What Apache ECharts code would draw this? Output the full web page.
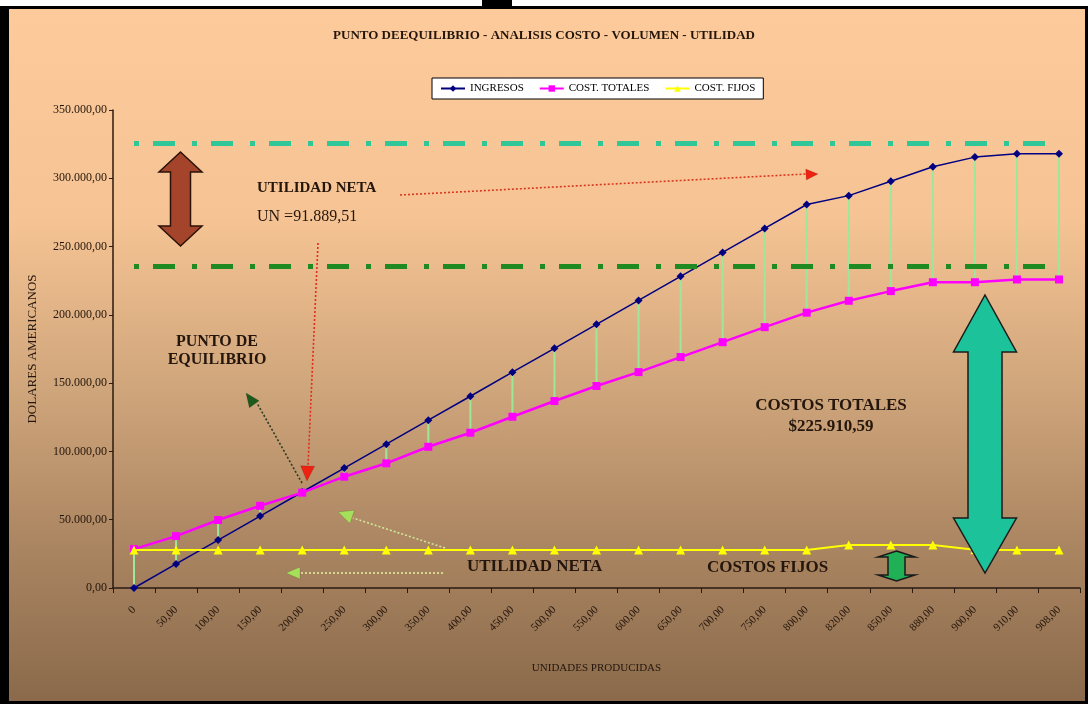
<!DOCTYPE html>
<html>
<head>
<meta charset="utf-8">
<script src="https://cdn.jsdelivr.net/npm/echarts/dist/echarts.min.js"></script>
<style>
  html, body { margin: 0; padding: 0; background: #fff; }
  body { width: 1088px; height: 706px; position: relative; overflow: hidden; }
  /* marco negro + fondo degradado como en Excel */
  #marco {
    position: absolute; left: 0; top: 6px; width: 1088px; height: 698px;
    box-sizing: border-box; border-style: solid; border-color: #000;
    border-width: 3px 3px 3px 9px;
    background: linear-gradient(to bottom, #fdcb9b 0%, #f6c494 30%, #cfa57b 55%, #a7825f 80%, #8a6a4b 100%);
  }
  #pestana { position: absolute; left: 482px; top: 0; width: 30px; height: 8px; background: #000; }
  #chart { position: absolute; left: 0; top: 0; width: 1088px; height: 706px; }
</style>
</head>
<body>
<div id="marco"></div>
<div id="pestana"></div>
<div id="chart"></div>
<script>
// categorias (unidades producidas)
const categorias = ['0', '50,00', '100,00', '150,00', '200,00', '250,00', '300,00', '350,00', '400,00',
  '450,00', '500,00', '550,00', '600,00', '650,00', '700,00', '750,00', '800,00', '820,00',
  '850,00', '880,00', '900,00', '910,00', '908,00'];

// series
const ingresos = [0, 17600, 35100, 52700, 70300, 87800, 105300, 122900, 140400, 158000, 175500,
  193100, 210600, 228200, 245700, 263300, 280800, 287300, 297800, 308500, 315500, 318000, 318000];
const costTotales = [28500, 38000, 49800, 60200, 69800, 81500, 91300, 103400, 113700, 125400, 136900,
  147900, 158100, 169100, 180000, 191000, 201600, 210300, 217400, 223900, 223900, 225900, 225910.59];
const costFijos = [27800, 27800, 27800, 27800, 27800, 27800, 27800, 27800, 27800, 27800, 27800,
  27800, 27800, 27800, 27800, 27800, 27800, 31500, 31500, 31500, 28000, 27800, 27800];

// lineas de referencia (punto-raya)
const lineasRef = [325500, 235500];
const coloresRef = ['#2fc797', '#1f8a22'];

const serif = 'Liberation Serif';
const oscuro = '#24160c';

// formato 350.000,00
const fmt = (v) => Math.round(v).toString().replace(/\B(?=(\d{3})+(?!\d))/g, '.') + ',00';

// flecha doble vertical
const flechaDoble = (cx, top, bottom, headW, shaftW, headTop, headBot) => [
  [cx, top], [cx + headW / 2, top + headTop], [cx + shaftW / 2, top + headTop],
  [cx + shaftW / 2, bottom - headBot], [cx + headW / 2, bottom - headBot], [cx, bottom],
  [cx - headW / 2, bottom - headBot], [cx - shaftW / 2, bottom - headBot],
  [cx - shaftW / 2, top + headTop], [cx - headW / 2, top + headTop]
];

// punta de flecha (triangulo)
const punta = (x, y, ang, len, half) => {
  const bx = x - len * Math.cos(ang);
  const by = y - len * Math.sin(ang);
  const px = -Math.sin(ang) * half;
  const py = Math.cos(ang) * half;
  return [[x, y], [bx + px, by + py], [bx - px, by - py]];
};

const lineaPunteada = (x1, y1, x2, y2, color) => ({
  type: 'line', z: 100, silent: true,
  shape: { x1, y1, x2, y2 },
  style: { stroke: color, lineWidth: 1.6, lineDash: [2, 2] }
});

const triangulo = (pts, color) => ({
  type: 'polygon', z: 101, silent: true,
  shape: { points: pts },
  style: { fill: color, stroke: 'rgba(0,0,0,0.25)', lineWidth: 0.5 }
});

const texto = (x, y, t, font, align) => ({
  type: 'text', z: 102, silent: true, x, y,
  style: { text: t, font, fill: oscuro, align: align || 'left', verticalAlign: 'middle' }
});

const chart = echarts.init(document.getElementById('chart'));

const hiLo = categorias.map((c, i) => [i, ingresos[i], costTotales[i]]);

const option = {
  animation: false,
  backgroundColor: 'transparent',
  title: {
    text: 'PUNTO DEEQUILIBRIO - ANALISIS COSTO - VOLUMEN - UTILIDAD',
    left: 'center',
    top: 24,
    textStyle: { fontFamily: serif, fontSize: 13, fontWeight: 'bold', color: oscuro }
  },
  legend: {
    data: ['INGRESOS', 'COST. TOTALES', 'COST. FIJOS'],
    left: 432,
    top: 78,
    backgroundColor: '#fff',
    borderColor: '#000',
    borderWidth: 1,
    padding: [5, 8],
    itemGap: 15,
    itemWidth: 24,
    itemHeight: 8,
    textStyle: { fontFamily: serif, fontSize: 11, color: '#000' }
  },
  grid: { left: 113, right: 8, top: 110, bottom: 118 },
  xAxis: {
    type: 'category',
    data: categorias,
    boundaryGap: true,
    name: 'UNIDADES PRODUCIDAS',
    nameLocation: 'middle',
    nameGap: 75,
    nameTextStyle: { fontFamily: serif, fontSize: 11, color: oscuro },
    axisLine: { lineStyle: { color: '#2b1a10', width: 1.5 } },
    axisTick: { show: true, length: 5, lineStyle: { color: '#2b1a10' } },
    axisLabel: { rotate: 45, interval: 0, fontFamily: serif, fontSize: 11, color: oscuro, margin: 20 },
    splitLine: { show: false }
  },
  yAxis: {
    type: 'value',
    min: 0,
    max: 350000,
    interval: 50000,
    name: 'DOLARES AMERICANOS',
    nameLocation: 'middle',
    nameGap: 74,
    nameRotate: 90,
    nameTextStyle: { fontFamily: serif, fontSize: 13, color: oscuro },
    axisLine: { show: true, lineStyle: { color: '#2b1a10', width: 1.5 } },
    axisTick: { show: true, length: 4, lineStyle: { color: '#2b1a10' } },
    axisLabel: { formatter: fmt, fontFamily: serif, fontSize: 12, color: oscuro, margin: 6 },
    splitLine: { show: false }
  },
  series: [
    {
      // lineas verticales entre ingresos y costos totales
      name: 'hilo',
      type: 'custom',
      silent: true,
      z: 1,
      data: hiLo,
      encode: { x: 0, y: [1, 2] },
      renderItem: (params, api) => {
        const a = api.coord([api.value(0), api.value(1)]);
        const b = api.coord([api.value(0), api.value(2)]);
        return {
          type: 'line',
          shape: { x1: a[0], y1: a[1], x2: b[0], y2: b[1] },
          style: { stroke: '#9ee79a', lineWidth: 2 }
        };
      }
    },
    {
      name: 'INGRESOS',
      type: 'line',
      z: 3,
      data: ingresos,
      symbol: 'diamond',
      symbolSize: 8,
      itemStyle: { color: '#000080' },
      lineStyle: { color: '#000080', width: 1.5 },
      markLine: {
        silent: true,
        symbol: 'none',
        label: { show: false },
        lineStyle: { width: 5, type: [5, 14, 22, 17], opacity: 1 },
        data: lineasRef.map((v, i) => [
          { coord: [0, v], lineStyle: { color: coloresRef[i], width: 5, type: [5, 14, 22, 17] } },
          { coord: [categorias.length - 1, v] }
        ])
      }
    },
    {
      name: 'COST. TOTALES',
      type: 'line',
      z: 4,
      data: costTotales,
      symbol: 'rect',
      symbolSize: 8,
      itemStyle: { color: '#ff00ff' },
      lineStyle: { color: '#ff00ff', width: 2.5 }
    },
    {
      name: 'COST. FIJOS',
      type: 'line',
      z: 5,
      data: costFijos,
      symbol: 'triangle',
      symbolSize: 9,
      itemStyle: { color: '#ffff00' },
      lineStyle: { color: '#ffff00', width: 2 }
    }
  ],
  graphic: [
    // flecha marron (utilidad neta)
    {
      type: 'polygon', z: 100, silent: true,
      shape: { points: flechaDoble(180.5, 152, 246, 43, 20, 20, 20) },
      style: { fill: '#a4452b', stroke: '#2b1208', lineWidth: 1.5 }
    },
    // flecha grande turquesa (costos totales)
    {
      type: 'polygon', z: 100, silent: true,
      shape: { points: flechaDoble(985, 295, 573, 63, 34, 57, 55) },
      style: { fill: '#1cc39a', stroke: '#1a1a1a', lineWidth: 1.5 }
    },
    // flecha pequeña verde (costos fijos)
    {
      type: 'polygon', z: 100, silent: true,
      shape: { points: flechaDoble(896.5, 551, 581, 37, 17, 6, 6) },
      style: { fill: '#20b055', stroke: '#1a1a1a', lineWidth: 1.5 }
    },
    // flechas punteadas
    lineaPunteada(400, 195, 806, 174, '#d9381f'),
    triangulo(punta(818, 174, -0.05, 12, 5.5), '#ee2211'),
    lineaPunteada(318, 243, 308, 466, '#e52a1c'),
    triangulo(punta(307, 481, Math.PI / 2 + 0.04, 15, 7), '#ee2211'),
    lineaPunteada(302, 483, 257, 403, '#2d3a20'),
    triangulo(punta(246, 393, -2.2, 14, 6), '#1e5a1c'),
    lineaPunteada(445, 548, 353, 518, '#cfe89a'),
    triangulo(punta(338, 512, Math.PI + 0.33, 15, 7), '#a6e05a'),
    lineaPunteada(443, 573, 300, 573, '#e2eaa0'),
    triangulo(punta(286, 573, Math.PI, 14, 6), '#a6e05a'),
    // textos
    texto(257, 188, 'UTILIDAD NETA', 'bold 15px ' + serif),
    texto(257, 217, 'UN =91.889,51', '16px ' + serif),
    texto(217, 342, 'PUNTO DE', 'bold 16px ' + serif, 'center'),
    texto(217, 360, 'EQUILIBRIO', 'bold 16px ' + serif, 'center'),
    texto(831, 406, 'COSTOS TOTALES', 'bold 17px ' + serif, 'center'),
    texto(831, 427, '$225.910,59', 'bold 17px ' + serif, 'center'),
    texto(467, 567, 'UTILIDAD NETA', 'bold 17px ' + serif),
    texto(707, 568, 'COSTOS FIJOS', 'bold 17px ' + serif)
  ]
};

chart.setOption(option);
</script>
</body>
</html>
